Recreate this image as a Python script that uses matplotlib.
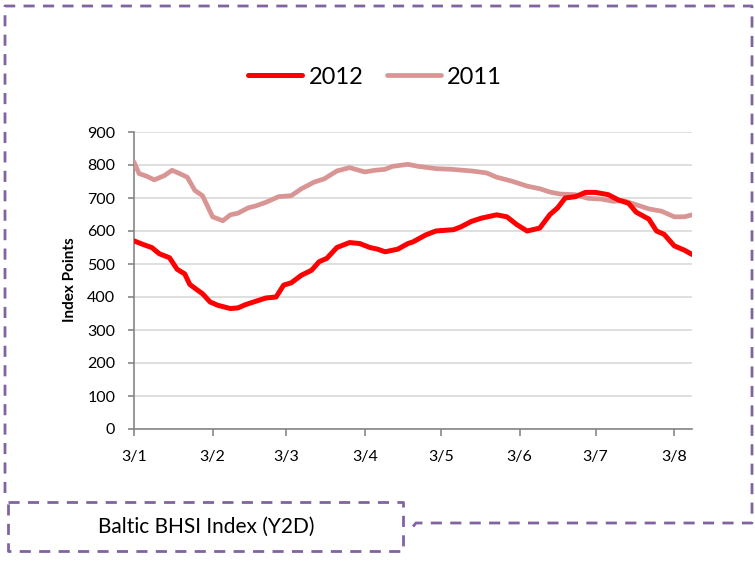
import pandas as pd
import matplotlib.pyplot as plt
import matplotlib.dates as mdates
from matplotlib.lines import Line2D

plt.rcParams['font.family'] = ['Lato', 'DejaVu Sans']

# --- data (day offsets from 3 Jan 2012, index points) ---
start = pd.Timestamp("2012-01-03")

days_2012 = [0, 4, 7, 10, 14, 17, 20, 22, 25, 27, 30, 33, 38, 41, 44, 48, 52, 56,
             59, 62, 66, 70, 73, 76, 80, 85, 89, 93, 96, 99, 104, 108, 110, 115,
             119, 126, 129, 133, 137, 143, 147, 151, 155, 160, 164, 167, 170, 174,
             178, 182, 187, 191, 195, 198, 203, 206, 209, 213, 217, 220]
bhsi_2012 = [570, 558, 550, 531, 519, 484, 470, 438, 421, 410, 385, 375, 365, 367, 377, 387, 397, 400,
             436, 443, 466, 481, 507, 517, 550, 565, 562, 550, 545, 537, 545, 562, 567, 588,
             600, 604, 613, 629, 639, 649, 643, 619, 600, 609, 650, 670, 700, 704,
             717, 717, 710, 694, 684, 657, 636, 600, 590, 555, 542, 529]

days_2011 = [0, 2, 5, 8, 12, 15, 18, 21, 24, 27, 31, 35, 38, 41, 45, 48, 52, 57,
             62, 66, 71, 75, 80, 85, 91, 95, 99, 102, 108, 112, 119, 125, 133, 139,
             143, 149, 155, 160, 164, 168, 174, 179, 184, 189, 193, 199, 203, 208,
             213, 217, 220]
bhsi_2011 = [809, 774, 766, 755, 768, 784, 774, 763, 723, 707, 643, 631, 649, 654, 670, 676, 687, 704,
             707, 728, 748, 758, 782, 792, 779, 784, 787, 796, 802, 796, 789, 787, 782, 776,
             763, 751, 736, 728, 718, 712, 710, 699, 697, 690, 692, 677, 667, 660,
             643, 643, 649]

month_ticks = ["2012-01-03", "2012-02-03", "2012-03-03", "2012-04-03",
               "2012-05-03", "2012-06-03", "2012-07-03", "2012-08-03"]

W, H = 755, 562


def fx(px):
    return px / W


def fy(py):
    return 1 - py / H


def main():
    d12 = start + pd.to_timedelta(days_2012, unit="D")
    d11 = start + pd.to_timedelta(days_2011, unit="D")

    fig = plt.figure(figsize=(W / 100, H / 100), dpi=100)
    ax = fig.add_axes([fx(134), fy(429), fx(692) - fx(134), fy(132) - fy(429)])

    ax.plot(d12, bhsi_2012, color="#FF0000", lw=3.6, solid_capstyle="round",
            solid_joinstyle="round", label="2012", zorder=4)
    ax.plot(d11, bhsi_2011, color="#D99594", lw=3.4, solid_capstyle="round",
            solid_joinstyle="round", label="2011", zorder=3)

    ax.set_ylim(0, 900)
    ax.set_yticks(range(0, 901, 100))
    ax.set_xlim(d12[0], d12[-1])
    ax.set_xticks(pd.to_datetime(month_ticks))
    ax.xaxis.set_major_formatter(mdates.DateFormatter("%-d/%-m"))

    ax.grid(axis="y", color="#D9D9D9", lw=1.2)
    ax.set_axisbelow(True)
    for s in ["top", "right"]:
        ax.spines[s].set_visible(False)
    for s in ["left", "bottom"]:
        ax.spines[s].set_color("#868686")
        ax.spines[s].set_linewidth(1.2)
    ax.tick_params(axis="y", length=4.5, width=1.2, color="#868686", pad=9, labelsize=11.5)
    ax.tick_params(axis="x", length=5, width=1.2, color="#868686", pad=10, labelsize=11.5)

    fig.text(fx(70), fy(280), "Index Points", rotation=90, ha="center", va="center",
             fontsize=11, fontweight="bold")

    fig.legend(loc="center", bbox_to_anchor=(fx(375), fy(77)), ncol=2, frameon=False,
               fontsize=17, handlelength=2.3, handletextpad=0.25, columnspacing=1.0)

    # dashed purple outline and caption box
    purple = "#8064A2"
    dash = (0, (4, 3))
    outline_x = [5, 5, 752, 752, 416, 411]
    outline_y = [493, 6, 6, 523, 523, 529]
    fig.add_artist(Line2D([fx(v) for v in outline_x], [fy(v) for v in outline_y],
                          color=purple, lw=2, linestyle=dash, transform=fig.transFigure))
    box_x = [8, 403, 403, 8, 8]
    box_y = [502, 502, 551, 551, 502]
    fig.add_artist(Line2D([fx(v) for v in box_x], [fy(v) for v in box_y],
                          color=purple, lw=2, linestyle=dash, transform=fig.transFigure))
    fig.text(fx(206), fy(527), "Baltic BHSI Index (Y2D)", ha="center", va="center",
             fontsize=15)

    fig.savefig("out.png", dpi=100)
    plt.close(fig)


if __name__ == "__main__":
    main()
